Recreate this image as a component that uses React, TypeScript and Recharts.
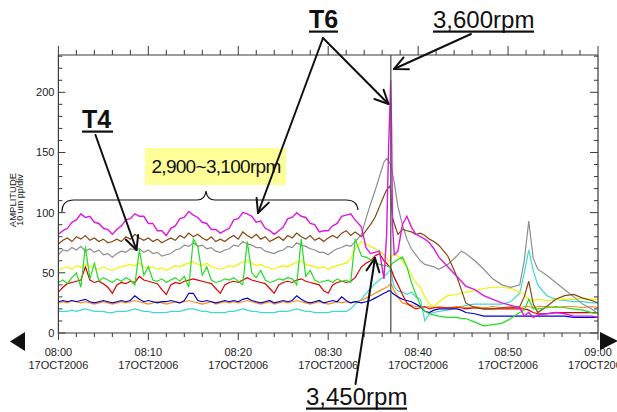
import React from 'react';
import { LineChart, Line, XAxis, YAxis, ReferenceLine } from 'recharts';

const FONT = '"Liberation Sans", Arial, Helvetica, sans-serif';

// minutes after 08:00
const TIME_MIN = [
  0, 0.5, 1, 1.5, 2, 2.5, 3, 3.5, 4, 4.5, 5, 5.5, 6, 6.5, 7, 7.5, 8, 8.5, 9, 9.5, 10, 10.5, 11, 11.5, 12,
  12.5, 13, 13.5, 14, 14.5, 15, 15.5, 16, 16.5, 17, 17.5, 18, 18.5, 19, 19.5, 20, 20.5, 21, 21.5, 22, 22.5, 23, 23.5, 24,
  24.5, 25, 25.5, 26, 26.5, 27, 27.5, 28, 28.5, 29, 29.5, 30, 30.5, 31, 31.5, 32, 32.5, 33,
  33.7, 34.2, 34.7, 35.2, 35.7, 36.2, 36.5, 36.7, 36.85, 36.95, 37.05, 37.15, 37.35, 37.75, 38.25, 38.75, 39.25, 39.75,
  40.25, 40.75, 41.25, 41.75, 42.3, 43.3, 44.3, 44.8, 45.3, 46.3, 47.3, 48.3, 49.3, 50.3, 51.3, 51.8, 52.3, 52.8, 53.3,
  54.3, 55.3, 56.3, 57.3, 58.3, 59.3, 60,
];

const MAGENTA = [
  82, 85, 87, 92, 94, 99, 96, 97, 92, 91, 87, 86, 82,
  86, 89, 94, 95, 99, 97, 97, 91, 91, 85, 85,
  81,
  87, 89, 95, 96, 101, 98, 96, 92, 91, 86, 86, 83,
  85, 87, 94, 95, 100, 99, 97, 92, 93, 87, 85, 82,
  85, 88, 95, 96, 100, 97, 96, 91, 90, 84, 85, 85,
  89, 91, 97, 98, 99, 94,
  88, 71, 66, 67, 68, 45, 82, 150, 185, 210, 170, 90, 65,
  68, 90, 97, 88, 82, 80, 78, 75, 70, 63,
  55, 47, 43, 39, 36, 31, 28, 25, 23, 21,
  14, 17, 13, 15, 16, 17, 16, 14, 14, 14, 13,
];

const BROWN = [
  74, 77, 79, 76, 80, 78, 81, 77, 79, 76, 78, 75, 76,
  78, 76, 80, 78, 82, 79, 77, 79, 76, 78, 75,
  77,
  79, 77, 81, 79, 83, 80, 82, 79, 77, 80, 76, 78,
  76, 79, 81, 78, 84, 81, 79, 82, 78, 80, 76, 78,
  80, 77, 81, 79, 83, 80, 78, 81, 77, 79, 76, 79,
  81, 79, 83, 85, 81, 84,
  80, 85, 90, 96, 105, 114, 119, 121, 122, 118, 105, 96, 91,
  82, 86, 85, 84, 82, 83, 81, 78, 76, 73,
  64, 47, 36, 25, 21, 20, 20, 21, 21, 22,
  30, 43, 24, 17, 22, 28, 31, 32, 29, 27, 25,
];

const GRAY = [
  65, 69, 68, 71, 69, 72, 68, 70, 67, 69, 65, 66, 63,
  66, 68, 67, 70, 69, 70, 67, 69, 66, 67, 64,
  65,
  66, 69, 70, 73, 72, 75, 72, 73, 70, 71, 68, 67,
  69, 70, 73, 72, 76, 74, 73, 71, 71, 68, 67, 66,
  68, 69, 72, 71, 75, 73, 72, 70, 69, 67, 67, 65,
  68, 70, 71, 73, 72, 76,
  82, 95, 107, 118, 130, 142, 145, 143, 141, 140, 137, 132, 125,
  105, 90, 78, 70, 65, 60, 57, 56, 55, 53,
  57, 64, 68, 66, 60, 53, 45, 40, 38, 40,
  60, 93, 62, 53, 48, 42, 36, 30, 24, 20, 16,
];

const YELLOW = [
  52, 54, 55, 53, 56, 55, 57, 55, 54, 53, 55, 53, 52,
  54, 55, 56, 57, 56, 58, 55, 54, 55, 53, 54,
  52,
  54, 56, 55, 57, 58, 59, 57, 56, 58, 55, 54, 53,
  54, 56, 55, 57, 59, 60, 58, 56, 57, 55, 54, 53,
  55, 56, 55, 57, 59, 60, 57, 56, 55, 54, 55, 53,
  55, 56, 57, 58, 62, 70,
  76, 74, 72, 70, 68, 65, 62, 60, 60, 61, 63, 65, 66,
  64, 60, 55, 48, 42, 38, 30, 24, 22, 26,
  31, 32, 33, 34, 35, 37, 38, 38, 37, 34,
  32, 28, 27, 28, 27, 28, 28, 28, 29, 28, 28,
];

const GREEN = [
  42, 44, 41, 46, 50, 38, 72, 45, 58, 43, 46, 44, 42,
  45, 43, 46, 44, 40, 69, 48, 55, 44, 43, 45,
  42,
  44, 46, 43, 47, 38, 78, 72, 48, 55, 44, 42, 43,
  45, 44, 46, 43, 40, 76, 50, 46, 52, 44, 42, 43,
  45, 44, 46, 45, 40, 78, 47, 52, 44, 42, 43, 44,
  42, 45, 43, 44, 42, 78,
  64, 63, 61, 58, 57, 56, 56, 55, 55, 56, 57, 58, 59,
  61, 63, 55, 42, 32, 23, 18, 16, 15, 14,
  13, 13, 12, 12, 9, 6, 7, 8, 12, 17,
  19, 28, 20, 20, 21, 22, 21, 20, 19, 17, 16,
];

const RED = [
  34, 38, 41, 42, 43, 44, 55, 44, 42, 43, 41, 38, 33,
  40, 42, 41, 43, 42, 47, 44, 43, 42, 41, 36,
  32,
  40, 42, 41, 43, 44, 45, 44, 43, 42, 41, 37, 33,
  40, 42, 43, 42, 44, 46, 44, 43, 42, 41, 37, 33,
  40, 42, 43, 42, 44, 45, 43, 42, 41, 40, 35, 33,
  40, 42, 43, 42, 43, 46,
  55, 58, 60, 64, 66, 60, 58, 56, 55, 54, 52, 50, 46,
  40, 32, 25, 22, 20, 21, 22, 20, 21, 21,
  21, 21, 21, 20, 21, 20, 20, 20, 20, 20,
  20, 19, 17, 16, 16, 17, 17, 17, 17, 17, 17,
];

const BLUE = [
  26, 27, 26, 27, 26, 27, 28, 26, 25, 26, 27, 26, 25,
  26, 27, 26, 27, 31, 28, 26, 27, 26, 25, 26,
  26,
  27, 26, 25, 27, 33, 33, 27, 26, 27, 26, 25, 26,
  27, 26, 27, 26, 28, 29, 27, 26, 25, 26, 27, 25,
  26, 27, 26, 27, 31, 28, 26, 25, 26, 27, 25, 26,
  27, 26, 30, 27, 25, 26,
  25, 26, 27, 29, 31, 33, 34, 35, 35, 35, 34, 33, 32,
  30, 28, 27, 26, 24, 22, 18, 17, 19, 20,
  20, 20, 19, 17, 16, 14, 14, 14, 14, 14,
  14, 14, 14, 14, 14, 14, 14, 13, 13, 13, 13,
];

const ORANGE = [
  25, 26, 25, 27, 26, 25, 26, 25, 24, 25, 26, 25, 24,
  25, 26, 25, 26, 27, 26, 25, 24, 25, 26, 25,
  24,
  25, 26, 25, 26, 27, 26, 25, 24, 25, 26, 24, 25,
  26, 25, 26, 25, 26, 27, 26, 25, 24, 25, 26, 24,
  25, 26, 25, 26, 27, 26, 25, 24, 25, 26, 25, 24,
  25, 26, 25, 26, 25, 26,
  27, 29, 31, 33, 35, 37, 38, 39, 40, 41, 40, 38, 35,
  30, 25, 24, 23, 22, 22, 21, 22, 21, 22,
  21, 22, 22, 21, 22, 21, 22, 21, 22, 21,
  22, 22, 21, 22, 22, 21, 22, 22, 21, 22, 21,
];

const CYAN = [
  18, 18, 18, 19, 18, 19, 20, 19, 18, 18, 18, 17, 17,
  18, 18, 18, 19, 20, 19, 18, 18, 17, 17, 17,
  17,
  18, 18, 18, 19, 20, 20, 19, 18, 18, 17, 17, 17,
  17, 18, 18, 19, 20, 19, 18, 18, 17, 17, 17, 17,
  18, 18, 18, 19, 20, 19, 18, 18, 17, 17, 17, 17,
  18, 18, 18, 18, 20, 24,
  28, 33, 37, 41, 44, 47, 49, 51, 52, 54, 50, 44, 38,
  35, 34, 32, 34, 30, 28, 10, 16, 17, 18,
  19, 21, 22, 23, 24, 24, 24, 24, 26, 33,
  50, 69, 52, 40, 31, 28, 27, 26, 26, 25, 25,
];

const X_TICKS = [0, 2, 4, 6, 8, 10, 12, 14, 16, 18, 20, 22, 24, 26, 28, 30, 32, 34, 36, 38, 40, 42, 44, 46, 48, 50, 52, 54, 56, 58, 60];
const X_TIME_LABELS = ['08:00', '08:10', '08:20', '08:30', '08:40', '08:50', '09:00'];
const X_DATE_LABEL = '17OCT2006';
const Y_TICKS = [0, 10, 20, 30, 40, 50, 60, 70, 80, 90, 100, 110, 120, 130, 140, 150, 160, 170, 180, 190, 200, 210, 220, 230];
const Y_MAX = 231;
const CURSOR_T = 36.96;

const SERIES = [
  { key: 'cyan', color: '#3fd8d8', values: CYAN },
  { key: 'orange', color: '#ff8a1a', values: ORANGE },
  { key: 'blue', color: '#0000cc', values: BLUE },
  { key: 'red', color: '#dd0000', values: RED },
  { key: 'yellow', color: '#f2f200', values: YELLOW },
  { key: 'gray', color: '#8e8e8e', values: GRAY },
  { key: 'brown', color: '#85470f', values: BROWN },
  { key: 'green', color: '#22dd22', values: GREEN },
  { key: 'magenta', color: '#dd18dd', values: MAGENTA },
];

const ROWS = TIME_MIN.map((t, i) => {
  const row: Record<string, number> = { t };
  SERIES.forEach((s) => {
    row[s.key] = s.values[i];
  });
  return row;
});

const AXIS_COLOR = '#3a3a3a';

const BottomTick = (props: any) => {
  const { x, y, payload } = props;
  const v = payload.value as number;
  const major = v % 10 === 0;
  return (
    <g>
      <line x1={x} y1={y} x2={x} y2={y + (major ? 7 : 4)} stroke={AXIS_COLOR} strokeWidth={1} />
      {major && (
        <g fontFamily={FONT} fontSize={11} fill="#222" textAnchor="middle">
          <text x={x} y={y + 23}>{X_TIME_LABELS[v / 10]}</text>
          <text x={x} y={y + 36}>{X_DATE_LABEL}</text>
        </g>
      )}
    </g>
  );
};

const TopTick = (props: any) => {
  const { x, y, payload } = props;
  const v = payload.value as number;
  const major = v % 10 === 0;
  return <line x1={x} y1={y} x2={x} y2={y - (major ? 9 : 5)} stroke={AXIS_COLOR} strokeWidth={1} />;
};

const LeftTick = (props: any) => {
  const { x, y, payload } = props;
  const v = payload.value as number;
  const major = v % 50 === 0;
  return (
    <g>
      <line x1={x} y1={y} x2={x + (major ? 7 : 4)} y2={y} stroke={AXIS_COLOR} strokeWidth={1} />
      {major && (
        <text x={x - 4} y={y + 4} textAnchor="end" fontFamily={FONT} fontSize={11} fill="#222">
          {v}
        </text>
      )}
    </g>
  );
};

const RightTick = (props: any) => {
  const { x, y, payload } = props;
  const v = payload.value as number;
  const major = v % 50 === 0;
  return <line x1={x} y1={y} x2={x - (major ? 8 : 4)} y2={y} stroke={AXIS_COLOR} strokeWidth={1} />;
};

function Arrow({ x1, y1, x2, y2 }: { x1: number; y1: number; x2: number; y2: number }) {
  const ang = Math.atan2(y2 - y1, x2 - x1);
  const L = 15;
  const a = 0.45;
  const p1 = `${x2 - L * Math.cos(ang - a)},${y2 - L * Math.sin(ang - a)}`;
  const p2 = `${x2 - L * Math.cos(ang + a)},${y2 - L * Math.sin(ang + a)}`;
  return (
    <g stroke="#111" strokeWidth={2} fill="none" strokeLinecap="round" strokeLinejoin="round">
      <line x1={x1} y1={y1} x2={x2} y2={y2} />
      <polyline points={`${p1} ${x2},${y2} ${p2}`} />
    </g>
  );
}

function Label({ x, y, text, bold, size, width }: { x: number; y: number; text: string; bold?: boolean; size: number; width: number }) {
  return (
    <g>
      <text x={x} y={y} fontFamily={FONT} fontSize={size} fontWeight={bold ? 700 : 400} fill="#111">
        {text}
      </text>
      <rect x={x} y={y + 2.5} width={width} height={2.2} fill="#111" />
    </g>
  );
}

function Overlay() {
  return (
    <svg width={617} height={412} style={{ position: 'absolute', left: 0, top: 0, pointerEvents: 'none' }}>
      {/* axis title */}
      <g fontFamily={FONT} fill="#222">
        <text transform="translate(15.5,200) rotate(-90)" textAnchor="middle" fontSize={9.5}>AMPLITUDE</text>
        <text transform="translate(23,200) rotate(-90)" textAnchor="middle" fontSize={9}>10 um pp/div</text>
      </g>
      {/* scroll triangles */}
      <polygon points="10,341.5 25,332 25,351" fill="#111" />
      <polygon points="600,332 600,350 618,341" fill="#111" />
      {/* speed range box */}
      <rect x={145} y={148} width={141} height={37} fill="#ffff99" />
      <text x={216} y={173} textAnchor="middle" fontFamily={FONT} fontSize={19} letterSpacing={-0.7} fill="#111">
        2,900~3,100rpm
      </text>
      {/* brace */}
      <path
        d="M62,212 Q62,200 74,200 L197,200 Q205,200 206,191 Q207,200 215,200 L346,200 Q357,200 358,210"
        stroke="#111"
        strokeWidth={1.2}
        fill="none"
      />
      {/* arrows */}
      <Arrow x1={95.5} y1={135} x2={136.5} y2={250} />
      <Arrow x1={323} y1={38} x2={258} y2={213} />
      <Arrow x1={323} y1={38} x2={388.5} y2={104} />
      <Arrow x1={471} y1={34} x2={394} y2={69} />
      <Arrow x1={355.5} y1={384} x2={375} y2={258} />
      {/* labels */}
      <Label x={82} y={128} text="T4" bold size={25} width={31} />
      <Label x={309} y={28} text="T6" bold size={25} width={29} />
      <Label x={433} y={28} text="3,600rpm" size={24} width={101} />
      <Label x={306} y={405} text="3,450rpm" size={24} width={101} />
    </svg>
  );
}

export default function App() {
  return (
    <div style={{ position: 'absolute', left: 0, top: 0, width: 617, height: 412, background: '#fff', overflow: 'hidden' }}>
      <LineChart width={617} height={412} data={ROWS} margin={{ top: 45, right: 14, bottom: 49, left: 18.4 }}>
        <XAxis
          dataKey="t"
          type="number"
          domain={[0, 60]}
          ticks={X_TICKS}
          interval={0}
          height={30}
          tickSize={0}
          tickMargin={0}
          tick={(p: any) => <BottomTick {...p} />}
          axisLine={{ stroke: AXIS_COLOR, strokeWidth: 1.2 }}
          allowDataOverflow
        />
        <XAxis
          xAxisId="top"
          dataKey="t"
          type="number"
          orientation="top"
          domain={[0, 60]}
          ticks={X_TICKS}
          interval={0}
          height={10}
          tickSize={0}
          tickMargin={0}
          tick={(p: any) => <TopTick {...p} />}
          axisLine={{ stroke: AXIS_COLOR, strokeWidth: 1.2 }}
          allowDataOverflow
        />
        <YAxis
          type="number"
          domain={[0, Y_MAX]}
          ticks={Y_TICKS}
          interval={0}
          width={40}
          tickSize={0}
          tickMargin={0}
          tick={(p: any) => <LeftTick {...p} />}
          axisLine={{ stroke: AXIS_COLOR, strokeWidth: 1.2 }}
          allowDataOverflow
        />
        <YAxis
          yAxisId="r"
          orientation="right"
          type="number"
          domain={[0, Y_MAX]}
          ticks={Y_TICKS}
          interval={0}
          width={5}
          tickSize={0}
          tickMargin={0}
          tick={(p: any) => <RightTick {...p} />}
          axisLine={{ stroke: AXIS_COLOR, strokeWidth: 1.2 }}
          allowDataOverflow
        />
        {SERIES.map((s) => (
          <Line
            key={s.key}
            dataKey={s.key}
            type="linear"
            stroke={s.color}
            strokeWidth={s.key === 'magenta' ? 1.4 : 1.2}
            dot={false}
            isAnimationActive={false}
          />
        ))}
        <ReferenceLine x={CURSOR_T} stroke="#555" strokeWidth={1.3} />
      </LineChart>
      <Overlay />
    </div>
  );
}
